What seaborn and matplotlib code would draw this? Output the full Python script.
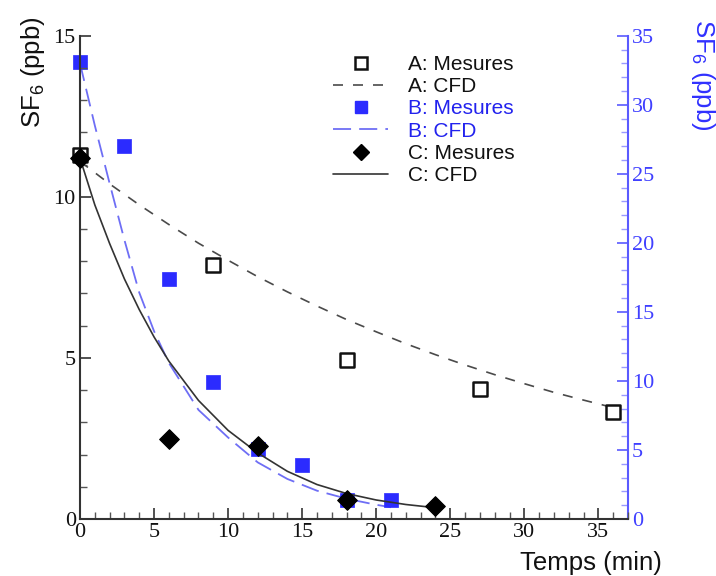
import matplotlib
matplotlib.use("Agg")
import matplotlib.pyplot as plt
from matplotlib.ticker import MultipleLocator
from matplotlib.lines import Line2D
import seaborn as sns
import pandas as pd

# ---- data ----
a_meas_t = [0, 9, 18, 27, 36]
a_meas_v = [11.3, 7.87, 4.94, 4.03, 3.33]
a_cfd_t = [0, 2, 4, 6, 8, 10, 12, 14, 16, 18, 20, 22, 24, 26, 28, 30, 32, 34, 35.8]
a_cfd_v = [11.10, 10.40, 9.75, 9.14, 8.56, 8.03, 7.52, 7.05, 6.61, 6.19, 5.81, 5.44,
           5.10, 4.78, 4.48, 4.20, 3.93, 3.69, 3.48]

b_meas_t = [0, 3, 6, 9, 12, 15, 18, 21]
b_meas_v = [33.1, 27.0, 17.4, 9.9, 5.1, 3.9, 1.4, 1.4]
b_cfd_t = [0, 1, 2, 3, 4, 5, 6, 8, 10, 12, 14, 16, 18, 20, 21]
b_cfd_v = [33.0, 28.5, 24.3, 20.2, 16.4, 13.6, 11.3, 7.9, 5.9, 4.1, 2.9, 2.05, 1.47, 1.03, 0.85]

c_meas_t = [0, 6, 12, 18, 24]
c_meas_v = [11.2, 2.48, 2.27, 0.59, 0.40]
c_cfd_t = [0, 1, 2, 3, 4, 5, 6, 8, 10, 12, 14, 16, 18, 20, 22, 24]
c_cfd_v = [11.2, 9.75, 8.55, 7.45, 6.5, 5.65, 4.9, 3.68, 2.75, 2.05, 1.48, 1.07, 0.79, 0.59, 0.45, 0.35]

labels = ["A: Mesures", "A: CFD", "B: Mesures", "B: CFD", "C: Mesures", "C: CFD"]

sns.set_style("ticks")
plt.rcParams["font.family"] = ["Liberation Serif", "DejaVu Serif"]
plt.rcParams["mathtext.fontset"] = "custom"
plt.rcParams["mathtext.rm"] = "Liberation Sans"

BLUE_PT = "#2b2bff"
BLUE_LN = "#6e6ef5"
BLUE_AX = "#5a5aff"

fig = plt.figure(figsize=(7.16, 5.76), dpi=100)
ax = fig.add_axes([80/716, 1-519/576, (628-80)/716, (519-35.7)/576])
ax2 = ax.twinx()

dfa = pd.DataFrame({"t": a_cfd_t, "v": a_cfd_v})
dfc = pd.DataFrame({"t": c_cfd_t, "v": c_cfd_v})
dfb = pd.DataFrame({"t": b_cfd_t, "v": b_cfd_v})

sns.lineplot(data=dfa, x="t", y="v", ax=ax, color="#4a4a4a", lw=1.2,
             linestyle=(0, (6, 6)))
sns.lineplot(data=dfc, x="t", y="v", ax=ax, color="#333333", lw=1.2)
sns.lineplot(data=dfb, x="t", y="v", ax=ax2, color=BLUE_LN, lw=1.3,
             linestyle=(0, (10, 4.5)))

sns.scatterplot(x=a_meas_t, y=a_meas_v, ax=ax, marker="s", s=110,
                facecolor="white", edgecolor="#111111", linewidth=1.8,
                clip_on=False, zorder=5)
sns.scatterplot(x=b_meas_t, y=b_meas_v, ax=ax2, marker="s", s=95,
                color=BLUE_PT, edgecolor=BLUE_PT, linewidth=0.5,
                clip_on=False, zorder=4)
sns.scatterplot(x=c_meas_t, y=c_meas_v, ax=ax, marker="D", s=100,
                color="black", edgecolor="black", clip_on=False, zorder=6)

ax.set_zorder(ax2.get_zorder() + 1)
ax.patch.set_visible(False)

ax.set_xlim(0, 37)
ax.set_ylim(0, 15)
ax2.set_ylim(0, 35)

ax.xaxis.set_major_locator(MultipleLocator(5))
ax.xaxis.set_minor_locator(MultipleLocator(1))
ax.yaxis.set_major_locator(MultipleLocator(5))
ax.yaxis.set_minor_locator(MultipleLocator(1))
ax2.yaxis.set_major_locator(MultipleLocator(5))
ax2.yaxis.set_minor_locator(MultipleLocator(1))

for a in (ax, ax2):
    a.set_xlabel("")
    a.set_ylabel("")
    a.spines["top"].set_visible(False)

ax.spines["left"].set_color("#333333")
ax.spines["bottom"].set_color("#333333")
ax.spines["left"].set_linewidth(1.5)
ax.spines["bottom"].set_linewidth(1.5)
ax.spines["right"].set_visible(False)
ax2.spines["left"].set_visible(False)
ax2.spines["bottom"].set_visible(False)
ax2.spines["right"].set_color(BLUE_AX)
ax2.spines["right"].set_linewidth(1.5)

ax.tick_params(axis="both", which="major", direction="in", length=8, width=1.2,
               color="#333333", labelsize=16, pad=3, labelcolor="#111111")
ax.tick_params(axis="both", which="minor", direction="in", length=5, width=1.0,
               color="#555555")
ax.tick_params(axis="y", right=False)
ax.tick_params(axis="x", top=False)
ax2.tick_params(axis="y", which="major", direction="in", length=8, width=1.2,
                color=BLUE_AX, labelsize=16, labelcolor="#4040ff", pad=3)
ax2.tick_params(axis="y", which="minor", direction="in", length=5, width=1.0,
                color="#9a9aff")

for lab in ax.get_xticklabels() + ax.get_yticklabels() + ax2.get_yticklabels():
    lab.set_fontfamily(["Liberation Serif"])

sans = ["Liberation Sans", "DejaVu Sans"]
fig.text(591/716, 1-563/576, "Temps (min)", family=sans, fontsize=18.5,
         ha="center", va="center", color="#111111")
fig.text(33/716, 1-72/576, "SF$_\\mathregular{6}$ (ppb)", family=sans, fontsize=18.5,
         rotation=90, ha="center", va="center", color="#111111")
fig.text(703/716, 1-75/576, "SF$_\\mathregular{6}$ (ppb)", family=sans, fontsize=18.5,
         rotation=-90, ha="center", va="center", color="#3030ff")

handles = [
    Line2D([], [], ls="none", marker="s", ms=9, mfc="white", mec="#111111", mew=1.8),
    Line2D([], [], color="#4a4a4a", lw=1.2, ls=(0, (6, 6))),
    Line2D([], [], ls="none", marker="s", ms=8.5, color=BLUE_PT),
    Line2D([], [], color=BLUE_LN, lw=1.3, ls=(0, (10, 4.5))),
    Line2D([], [], ls="none", marker="D", ms=8.5, color="black"),
    Line2D([], [], color="#333333", lw=1.2),
]
leg = ax.legend(handles, labels, loc="upper left", bbox_to_anchor=(333/716, 1-55/576),
                bbox_transform=fig.transFigure, frameon=False, handlelength=2.64,
                handletextpad=0.96, labelspacing=0.156, borderpad=0, borderaxespad=0,
                prop={"family": sans, "size": 15})
text_cols = ["#111111", "#111111", "#2222ee", "#2222ee", "#111111", "#111111"]
for t, c in zip(leg.get_texts(), text_cols):
    t.set_color(c)

fig.savefig("out.png", dpi=100)
